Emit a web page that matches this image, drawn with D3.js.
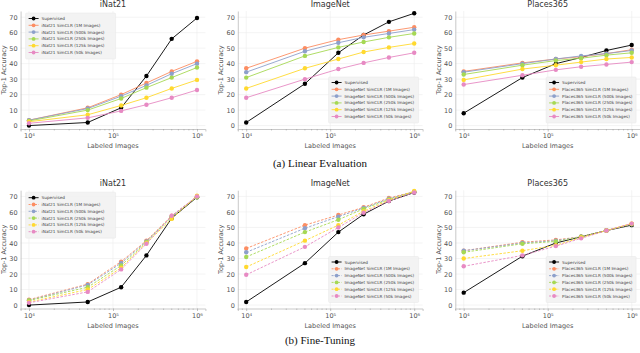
<!DOCTYPE html>
<html>
<head>
<meta charset="utf-8">
<script src="https://cdn.jsdelivr.net/npm/d3@7"></script>
<style>
  body { margin: 0; background: #fff; }
  svg { display: block; }
</style>
</head>
<body>
<div id="chart"></div>
<script>
// SVG size
var svgWidth = 640;
var svgHeight = 353;

// data
var labeledImages = [1e4, 5e4, 1.25e5, 2.5e5, 5e5, 1e6];
var datasets = ["iNat21", "ImageNet", "Places365"];
var pretrainSizes = ["1M", "500k", "250k", "125k", "50k"];
var seriesColors = ["#000000", "#fc8d62", "#8da0cb", "#a6d854", "#ffd92f", "#e78ac3"];
var yTicks = [0, 10, 20, 30, 40, 50, 60, 70];
var xTicks = [1e4, 1e5, 1e6];
var xTickLabels = ["10\u2074", "10\u2075", "10\u2076"];

// (a) linear evaluation: supervised, then SimCLR 1M, 500k, 250k, 125k, 50k
var linearINat21 = [
  [0, 2, 11.5, 32, 56, 69.5],
  [3.5, 11.5, 20, 27.5, 35, 41.5],
  [3.5, 11, 19, 26, 33.5, 40],
  [3, 10, 17.5, 24.5, 31, 37.5],
  [2.5, 7, 13, 18, 24, 29.5],
  [1.5, 5, 9.5, 13.5, 18, 23]
];
var linearImageNet = [
  [2, 27, 47, 58.5, 67, 72.5],
  [37, 50, 55.5, 58.5, 61, 63.5],
  [34.5, 48, 53.5, 57, 59.5, 62],
  [31, 45, 50.5, 54, 57, 59.5],
  [24, 37, 43, 47.5, 50.5, 53],
  [18, 30, 36.5, 40.5, 44, 47]
];
var linearPlaces365 = [
  [8, 31, 40, 44, 48.5, 52],
  [35, 40.5, 43, 44.5, 46.5, 49],
  [34.5, 40, 43, 45, 46.5, 48.5],
  [33, 39, 42, 43.5, 45.5, 47],
  [29.5, 36.5, 39, 41, 43, 44],
  [26.5, 32.5, 36, 38, 39.5, 41]
];

// (b) fine-tuning
var fineINat21 = [
  [0, 2, 11.5, 32, 56, 69.5],
  [3.5, 13.5, 28, 41.5, 57.5, 70],
  [3, 13, 27, 41, 57, 70],
  [3, 11.5, 25.5, 40.5, 57, 69.5],
  [2, 10, 24, 40, 55.5, 70.5],
  [1.5, 8.5, 23, 39.5, 57.5, 70]
];
var fineImageNet = [
  [2, 27, 47, 58.5, 67, 72.5],
  [36.5, 51.5, 58, 63, 69, 73],
  [34, 49.5, 57, 62.5, 68.5, 73],
  [31, 47, 55, 62, 68, 73],
  [24.5, 41.5, 51.5, 60.5, 67.5, 73.5],
  [19.5, 37.5, 50, 59.5, 67, 72.5]
];
var finePlaces365 = [
  [8, 31.5, 40, 44, 48, 51.5],
  [35, 40.5, 42, 44, 48, 52.5],
  [35, 40, 41.5, 44, 48, 52],
  [34, 39.5, 41, 44, 48, 52],
  [30, 35, 38.5, 43.5, 48, 52.5],
  [25, 32, 38, 43, 48, 52.5]
];

// layout
var colLeft = [20.6, 237.8, 455.3];
var plotWidth = 184.8;
var rows = [
  { top: 11, bottom: 129, caption: "(a) Linear Evaluation", captionY: 167, dashed: false,
    data: [linearINat21, linearImageNet, linearPlaces365] },
  { top: 190.2, bottom: 308.5, caption: "(b) Fine-Tuning", captionY: 344, dashed: true,
    data: [fineINat21, fineImageNet, finePlaces365] }
];

var svg = d3.select("#chart")
  .append("svg")
  .attr("width", svgWidth)
  .attr("height", svgHeight);

var font = "DejaVu Sans, sans-serif";

function seriesName(dataset, i) {
  if (i === 0) return "Supervised";
  return dataset + " SimCLR (" + pretrainSizes[i - 1] + " Images)";
}

rows.forEach(function(row) {
  datasets.forEach(function(dataset, c) {
    var left = colLeft[c];
    var right = left + plotWidth;

    var xScale = d3.scaleLog()
      .domain([Math.pow(10, 3.9), Math.pow(10, 6.1)])
      .range([left, right]);
    var yScale = d3.scaleLinear()
      .domain([-2.2, 74])
      .range([row.bottom, row.top]);

    var g = svg.append("g");

    // grid
    g.selectAll(".hgrid")
      .data(yTicks)
      .enter()
      .append("line")
      .attr("x1", left).attr("x2", right)
      .attr("y1", d => yScale(d)).attr("y2", d => yScale(d))
      .attr("stroke", "#ececec")
      .attr("stroke-width", 0.6);
    g.selectAll(".vgrid")
      .data(xTicks)
      .enter()
      .append("line")
      .attr("x1", d => xScale(d)).attr("x2", d => xScale(d))
      .attr("y1", row.top).attr("y2", row.bottom)
      .attr("stroke", "#ececec")
      .attr("stroke-width", 0.6);

    // axes
    var minorTicks = [];
    [1e3, 1e4, 1e5, 1e6].forEach(function(b) {
      for (var k = 2; k <= 9; k++) {
        var v = b * k;
        if (v > xScale.domain()[0] && v < xScale.domain()[1]) minorTicks.push(v);
      }
    });
    var xAxis = g.append("g")
      .attr("transform", `translate(0, ${row.bottom})`)
      .call(d3.axisBottom(xScale).tickValues(xTicks).tickSize(2.5).tickPadding(2)
        .tickFormat((d, i) => xTickLabels[i]));
    xAxis.select(".domain").attr("stroke", "#bbb").attr("stroke-width", 0.8);
    xAxis.selectAll(".tick line").attr("stroke", "#999").attr("stroke-width", 0.6);
    xAxis.selectAll(".tick text")
      .attr("font-family", font).attr("font-size", 6.5).attr("fill", "#555");
    xAxis.selectAll(".minor")
      .data(minorTicks)
      .enter()
      .append("line")
      .attr("x1", d => xScale(d)).attr("x2", d => xScale(d))
      .attr("y1", 0).attr("y2", 1.5)
      .attr("stroke", "#999").attr("stroke-width", 0.5);

    var yAxis = g.append("g")
      .attr("transform", `translate(${left}, 0)`)
      .call(d3.axisLeft(yScale).tickValues(yTicks).tickSize(0).tickPadding(3));
    yAxis.select(".domain").attr("stroke", "#bbb").attr("stroke-width", 0.8);
    yAxis.selectAll(".tick text")
      .attr("font-family", font).attr("font-size", 6.5).attr("fill", "#555");

    // labels
    g.append("text")
      .attr("x", (left + right) / 2)
      .attr("y", row.top - 4)
      .attr("text-anchor", "middle")
      .attr("font-family", font).attr("font-size", 8).attr("fill", "#333")
      .text(dataset);
    g.append("text")
      .attr("x", (left + right) / 2)
      .attr("y", row.bottom + 19)
      .attr("text-anchor", "middle")
      .attr("font-family", font).attr("font-size", 6.5).attr("fill", "#555")
      .text("Labeled Images");
    g.append("text")
      .attr("transform", `translate(${left - 14.5}, ${(row.top + row.bottom) / 2}) rotate(-90)`)
      .attr("text-anchor", "middle")
      .attr("font-family", font).attr("font-size", 6.5).attr("fill", "#555")
      .text("Top-1 Accuracy");

    // series
    var line = d3.line()
      .x((d, i) => xScale(labeledImages[i]))
      .y(d => yScale(d));
    row.data[c].forEach(function(series, s) {
      var color = seriesColors[s];
      g.append("path")
        .datum(series)
        .attr("d", line)
        .attr("fill", "none")
        .attr("stroke", color)
        .attr("stroke-width", 0.9)
        .attr("stroke-dasharray", (row.dashed && s > 0) ? "2.5,1.5" : null);
      g.selectAll(".pt" + s)
        .data(series)
        .enter()
        .append("circle")
        .attr("cx", (d, i) => xScale(labeledImages[i]))
        .attr("cy", d => yScale(d))
        .attr("r", 2.2)
        .attr("fill", color);
    });

    // legend
    var boxW = 90, boxH = 46;
    var bx, by;
    if (c === 0) {
      bx = left + 5; by = row.top + 2;
    } else {
      bx = right - boxW - 4; by = row.bottom - boxH - 6;
    }
    var legend = g.append("g").attr("transform", `translate(${bx}, ${by})`);
    legend.append("rect")
      .attr("width", boxW).attr("height", boxH)
      .attr("rx", 1)
      .attr("fill", "#f2f2f2").attr("fill-opacity", 0.9)
      .attr("stroke", "#e6e6e6").attr("stroke-width", 0.5);
    seriesColors.forEach(function(color, s) {
      var ly = 5.5 + s * 6.8;
      legend.append("line")
        .attr("x1", 3).attr("x2", 13)
        .attr("y1", ly).attr("y2", ly)
        .attr("stroke", color).attr("stroke-width", 0.9)
        .attr("stroke-dasharray", (row.dashed && s > 0) ? "2,1.2" : null);
      legend.append("circle")
        .attr("cx", 8).attr("cy", ly).attr("r", 1.9)
        .attr("fill", color);
      legend.append("text")
        .attr("x", 16).attr("y", ly + 1.5)
        .attr("font-family", font).attr("font-size", 4.2).attr("fill", "#444")
        .text(seriesName(dataset, s));
    });
  });

  // caption
  svg.append("text")
    .attr("x", svgWidth / 2)
    .attr("y", row.captionY)
    .attr("text-anchor", "middle")
    .attr("font-family", "Liberation Serif, Times New Roman, serif")
    .attr("font-size", 11).attr("fill", "#111")
    .text(row.caption);
});
</script>
</body>
</html>
